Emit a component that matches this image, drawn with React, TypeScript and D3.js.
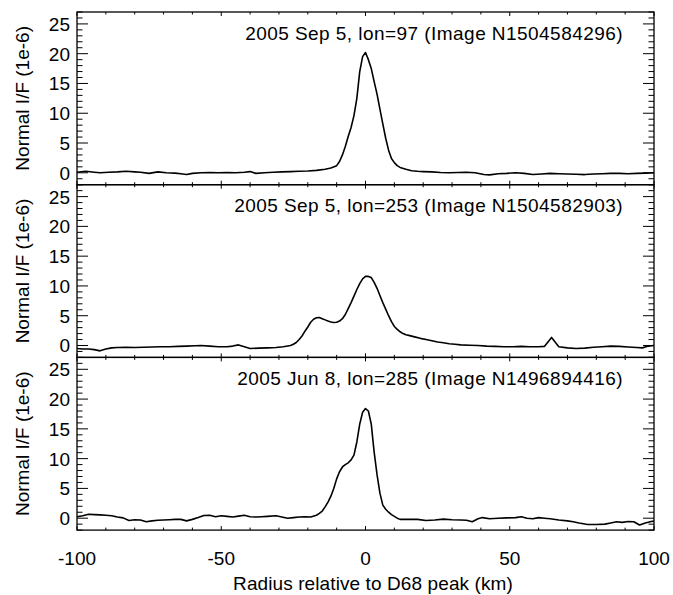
import React from "react";
import * as d3 from "d3";

const radiusA = [-100,-97,-94,-92,-89,-86,-83,-80,-78,-75,-72,-69,-66,-64,-62,-60,-57,-54,-51,-48,-45,-42,-40,-38,-35,-32,-29,-26,-23,-20,-17,-14,-12,-10,-9,-8,-7,-6,-5,-4,-3,-2,-1,0,1,2,3,4,5,6,7,8,9,10,11,12,14,16,18,20,23,26,29,32,35,38,41,43,46,49,52,55,58,61,64,67,70,73,76,79,82,85,88,91,94,97,100];
const valuesA = [0.1,0.25,0.1,0.0,0.1,0.15,0.25,0.15,0.1,-0.1,0.15,0.0,-0.05,-0.15,-0.3,-0.1,0.0,0.05,0.0,0.05,0.0,0.1,0.2,-0.1,0.0,0.1,0.15,0.2,0.25,0.3,0.4,0.6,0.8,1.2,1.9,3.0,4.4,6.1,7.6,9.6,12.5,17.0,19.5,20.2,19.0,17.5,15.3,13.2,10.7,8.2,5.8,3.8,2.4,1.7,1.2,0.9,0.6,0.35,0.25,0.2,0.15,0.05,0.0,0.05,0.1,0.0,-0.3,-0.35,-0.15,-0.1,0.0,-0.1,-0.3,-0.2,-0.1,-0.15,-0.2,-0.25,-0.3,-0.2,-0.15,-0.1,-0.1,-0.15,-0.1,-0.05,0.0];

const radiusB = [-100,-98,-96,-94,-92,-90,-88,-86,-83,-80,-77,-74,-71,-68,-65,-62,-59,-57,-54,-51,-48,-46,-44,-42,-40,-37,-34,-31,-28.5,-26,-25,-24,-23,-22,-21,-20,-19,-18,-17,-16,-15,-14,-13,-12,-11,-10,-9,-8,-7,-6,-5,-4,-3,-2,-1,0,1,2,3,4,5,6,7,8,9,10,11,12,13,14,15,17,19,21,23,25,27,29,31,33,36,39,42,45,48,51,54,57,60,62,64.5,67,70,73,76,79,82,85,88,91,94,96,98,100];
const valuesB = [-0.5,-0.6,-0.6,-0.7,-0.9,-0.6,-0.4,-0.35,-0.3,-0.35,-0.3,-0.25,-0.2,-0.2,-0.15,-0.1,-0.05,0.0,-0.1,-0.2,-0.2,-0.1,0.1,-0.2,-0.5,-0.45,-0.4,-0.35,-0.2,0.0,0.2,0.5,1.0,1.6,2.4,3.1,3.9,4.4,4.65,4.7,4.5,4.3,4.1,3.95,3.85,3.9,4.1,4.5,5.2,6.2,7.2,8.3,9.4,10.4,11.2,11.6,11.6,11.4,10.6,9.6,8.4,7.2,6.1,5.0,4.0,3.2,2.7,2.3,2.0,1.8,1.7,1.45,1.2,1.0,0.8,0.6,0.45,0.3,0.2,0.1,0.05,0.0,-0.1,-0.15,-0.2,-0.2,-0.15,-0.2,-0.2,-0.15,1.35,-0.2,-0.4,-0.5,-0.45,-0.3,-0.2,-0.1,-0.15,-0.25,-0.35,-0.4,-0.1,0.0];

const radiusC = [-100,-98,-96,-94,-92,-90,-88,-86,-84,-82,-80,-78,-76,-74,-72,-70,-68,-66,-64,-62,-60,-58,-56,-54,-52,-50,-48,-46,-44,-42,-40,-38,-36,-34,-31,-29,-27,-25,-23,-21,-19,-17,-16,-15,-14,-13,-12,-11,-10,-9,-8,-7,-6,-5,-4,-3,-2,-1,0,1,2,3,4,5,6,7,8,9,10,11,12,14,16,18,21,24,27,30,33,35,37,39,40.5,43,46,49,52,54,56,58,60,62,64,67,70,72,74,77,80,83,85,87,89,91,93,95,97,99,100];
const valuesC = [0.25,0.4,0.65,0.6,0.55,0.5,0.4,0.2,0.05,-0.4,-0.25,-0.3,-0.6,-0.45,-0.35,-0.3,-0.25,-0.2,-0.2,-0.45,-0.2,0.1,0.45,0.5,0.25,0.4,0.3,0.2,0.35,0.5,0.25,0.2,0.25,0.3,0.4,0.2,0.0,0.1,0.2,0.25,0.2,0.5,0.8,1.2,1.9,2.7,3.7,5.0,6.6,7.8,8.6,9.0,9.3,9.8,10.6,12.8,15.8,17.8,18.4,18.0,15.8,11.1,7.3,4.2,2.2,1.5,1.0,0.6,0.3,0.0,-0.2,-0.2,-0.2,-0.2,-0.4,-0.3,-0.15,-0.25,-0.3,-0.35,-0.6,-0.1,0.1,-0.1,0.0,0.05,0.1,0.25,0.0,-0.1,0.1,0.0,-0.1,-0.3,-0.45,-0.6,-0.8,-1.05,-1.05,-1.0,-0.8,-0.6,-0.7,-0.55,-0.6,-1.15,-0.8,-0.55,-0.5];

const panelTitles = [
  "2005 Sep 5, lon=97 (Image N1504584296)",
  "2005 Sep 5, lon=253 (Image N1504582903)",
  "2005 Jun 8, lon=285 (Image N1496894416)",
];
const xDomain = [-100, 100];
const yDomain = [-2, 27];
const xMajorTicks = [-100, -50, 0, 50, 100];
const yMajorTicks = [0, 5, 10, 15, 20, 25];
const yLabel = "Normal I/F (1e-6)";
const xLabel = "Radius relative to D68 peak (km)";

const W = 673;
const H = 595;
const left = 77;
const right = 654;
const top0 = 12;
const panelH = 172.7;
const FONT = "'Liberation Sans', Arial, Helvetica, sans-serif";

export default function App() {
  const series = [
    { r: radiusA, v: valuesA },
    { r: radiusB, v: valuesB },
    { r: radiusC, v: valuesC },
  ];
  const x = d3.scaleLinear().domain(xDomain).range([left, right]);
  const xMinor = d3.range(-100, 101, 10);
  const yMinor = d3.range(-2, 28, 1);

  return (
    <svg width={W} height={H} style={{ position: "absolute", left: 0, top: 0, background: "#fff" }} fontFamily={FONT}>
      <rect x={0} y={0} width={W} height={H} fill="#fff" />
      {series.map((s, i) => {
        const t = top0 + i * panelH;
        const b = t + panelH;
        const y = d3.scaleLinear().domain(yDomain).range([b, t]);
        const pts = s.r.map((r, k) => [r, s.v[k]] as [number, number]);
        const line = d3.line<[number, number]>().x((d) => x(d[0])).y((d) => y(d[1]));
        return (
          <g key={i}>
            <path d={line(pts) || ""} fill="none" stroke="#000" strokeWidth={1.6} strokeLinejoin="round" />
            {yMinor.map((v) => {
              const major = v % 5 === 0 && v >= 0 && v <= 25;
              const len = major ? 11 : 5.5;
              return (
                <g key={"yt" + v}>
                  <line x1={left} x2={left + len} y1={y(v)} y2={y(v)} stroke="#000" strokeWidth={1} />
                  <line x1={right} x2={right - len} y1={y(v)} y2={y(v)} stroke="#000" strokeWidth={1} />
                </g>
              );
            })}
            {xMinor.map((v) => {
              const major = xMajorTicks.includes(v);
              const len = major ? 4 : 2.5;
              return (
                <g key={"xt" + v}>
                  <line x1={x(v)} x2={x(v)} y1={b} y2={b - len} stroke="#000" strokeWidth={1} />
                  <line x1={x(v)} x2={x(v)} y1={t} y2={t + len} stroke="#000" strokeWidth={1} />
                </g>
              );
            })}
            <rect x={left} y={t} width={right - left} height={panelH} fill="none" stroke="#000" strokeWidth={1.3} />
            {yMajorTicks.map((v) => (
              <text key={"yl" + v} x={70} y={y(v) + 7} textAnchor="end" fontSize={19} fill="#000">
                {v}
              </text>
            ))}
            <text x={623} y={t + 27.5} textAnchor="end" fontSize={19} letterSpacing={0.45} fill="#000">
              {panelTitles[i]}
            </text>
            <text
              transform={`translate(29,${(t + b) / 2}) rotate(-90)`}
              textAnchor="middle"
              fontSize={19}
              fill="#000"
            >
              {yLabel}
            </text>
          </g>
        );
      })}
      {xMajorTicks.map((v) => (
        <text key={"xl" + v} x={x(v)} y={565} textAnchor="middle" fontSize={19} fill="#000">
          {v}
        </text>
      ))}
      <text x={373} y={590} textAnchor="middle" fontSize={19} letterSpacing={0.1} fill="#000">
        {xLabel}
      </text>
    </svg>
  );
}
